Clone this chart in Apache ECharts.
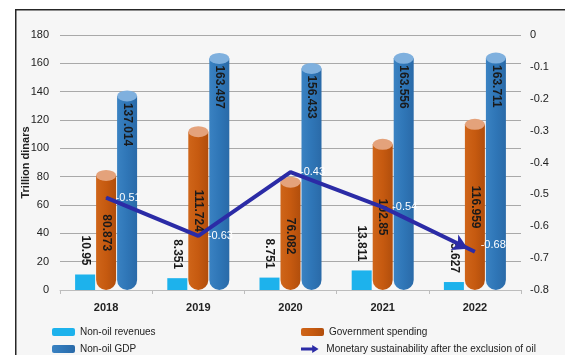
<!DOCTYPE html>
<html>
<head>
<meta charset="utf-8">
<script src="https://cdn.jsdelivr.net/npm/echarts@6/dist/echarts.min.js"></script>
<style>
  html, body { margin: 0; padding: 0; background: #ffffff; }
  #chart { width: 565px; height: 355px; }
</style>
</head>
<body>
<div id="chart"></div>
<script>
// Fiscal indicators, 2018-2022
const years = ['2018', '2019', '2020', '2021', '2022'];
const nonOilRevenues = [10.95, 8.351, 8.751, 13.811, 5.627];
const governmentSpending = [80.873, 111.724, 76.082, 102.85, 116.959];
const nonOilGDP = [137.014, 163.497, 156.433, 163.556, 163.711];
const sustainability = [-0.51, -0.63, -0.43, -0.54, -0.68];

const leftTicks = { min: 0, max: 180, interval: 20 };
const rightTicks = { min: -0.8, max: 0, interval: 0.1 };

const names = {
  rev: 'Non-oil revenues',
  spend: 'Government spending',
  gdp: 'Non-oil GDP',
  sust: 'Monetary sustainability after the exclusion of oil'
};

const FONT = '"Liberation Sans", Arial, sans-serif';
const NARROW = '"Liberation Sans Narrow", "Liberation Sans", Arial, sans-serif';
const BAR_W = 20;

const orangeFill = new echarts.graphic.LinearGradient(0, 0, 1, 0, [
  { offset: 0, color: '#cf6519' }, { offset: 0.5, color: '#c65a10' }, { offset: 1, color: '#b14e0c' }
]);
const blueFill = new echarts.graphic.LinearGradient(0, 0, 1, 0, [
  { offset: 0, color: '#3a82c2' }, { offset: 0.5, color: '#2f76b7' }, { offset: 1, color: '#2a6aa8' }
]);

const barLabel = {
  show: true, rotate: -90, color: '#1a1a1a', fontFamily: FONT,
  fontSize: 12, fontWeight: 'bold'
};

// Last point of the sustainability line carries the arrow head
const sustData = sustainability.map((v, i) => i === sustainability.length - 1
  ? { value: v, symbol: 'arrow', symbolSize: [13, 15], symbolRotate: -116, symbolOffset: [-7, -3] }
  : v);

function legendAt(name, left, top) {
  return {
    data: [name], left: left, top: top, itemWidth: 23, itemHeight: 8,
    selectedMode: false,
    textStyle: { fontFamily: NARROW, fontSize: 10, color: '#222' }
  };
}

const option = {
  animation: false,
  backgroundColor: 'transparent',
  graphic: [{
    type: 'rect', left: 15, top: 9, z: -10, silent: true,
    shape: { width: 570, height: 360 },
    style: { fill: '#f6f6f6', stroke: '#262626', lineWidth: 1.5 }
  }],
  grid: { left: 60, right: 44, top: 35, bottom: 65 },
  legend: [
    legendAt(names.rev, 47, 322),
    legendAt(names.spend, 296, 322),
    legendAt(names.gdp, 47, 339),
    Object.assign(legendAt(names.sust, 296, 339), {
      data: [{ name: names.sust, icon: 'path://M0,3 L14,3 L14,0 L22,5 L14,10 L14,7 L0,7 Z', itemStyle: { color: '#2b2ba6' } }]
    })
  ],
  xAxis: {
    type: 'category', data: years,
    axisLine: { lineStyle: { color: '#bdbdbd' } },
    axisTick: { show: true, length: 4, lineStyle: { color: '#bdbdbd' } },
    axisLabel: { fontFamily: FONT, fontSize: 11, fontWeight: 'bold', color: '#222', margin: 12 }
  },
  yAxis: [{
    type: 'value', min: leftTicks.min, max: leftTicks.max, interval: leftTicks.interval,
    name: 'Trillion dinars', nameLocation: 'middle', nameGap: 29, nameMoveOverlap: false,
    nameTextStyle: { fontFamily: FONT, fontSize: 11, fontWeight: 'bold', color: '#222' },
    axisLine: { show: false }, axisTick: { show: false },
    axisLabel: { fontFamily: FONT, fontSize: 11, color: '#222', margin: 11 },
    splitLine: { lineStyle: { color: '#a9a9a9', width: 1 } }
  }, {
    type: 'value', min: rightTicks.min, max: rightTicks.max, interval: rightTicks.interval,
    axisLine: { show: false }, axisTick: { show: false }, splitLine: { show: false },
    axisLabel: {
      fontFamily: FONT, fontSize: 11, color: '#222', margin: 9,
      formatter: v => (Math.abs(v) < 1e-9 ? '0' : (+v.toFixed(1)).toString())
    }
  }],
  series: [
    {
      name: names.rev, type: 'bar', data: nonOilRevenues, barWidth: BAR_W, barGap: '5%',
      itemStyle: { color: '#1db2ec' },
      label: Object.assign({}, barLabel, { position: 'top', distance: 9, align: 'right', verticalAlign: 'middle' })
    },
    {
      name: names.spend, type: 'bar', data: governmentSpending, barWidth: BAR_W, barGap: '5%',
      itemStyle: { color: orangeFill, borderRadius: [0, 0, 10, 10] },
      label: Object.assign({}, barLabel, { position: 'inside', align: 'center', verticalAlign: 'middle' })
    },
    {
      name: names.gdp, type: 'bar', data: nonOilGDP, barWidth: BAR_W, barGap: '5%',
      itemStyle: { color: blueFill, borderRadius: [0, 0, 10, 10] },
      label: Object.assign({}, barLabel, { position: 'insideTop', distance: 7, align: 'left', verticalAlign: 'middle' })
    },
    // Lighter elliptical caps on the cylinder tops
    {
      type: 'pictorialBar', data: governmentSpending, symbol: 'circle', symbolSize: [BAR_W, 11],
      symbolPosition: 'end', symbolOffset: [0, '-50%'], z: 3, silent: true,
      itemStyle: { color: '#e4a27b' }, tooltip: { show: false }
    },
    {
      type: 'pictorialBar', data: nonOilGDP, symbol: 'circle', symbolSize: [BAR_W, 11],
      symbolPosition: 'end', symbolOffset: [21, '-50%'], z: 3, silent: true,
      itemStyle: { color: '#7fb0de' }, tooltip: { show: false }
    },
    {
      name: names.sust, type: 'line', yAxisIndex: 1, data: sustData, z: 5,
      symbol: 'circle', symbolSize: 1,
      lineStyle: { color: '#2b2ba6', width: 4 },
      itemStyle: { color: '#2b2ba6' },
      label: { show: true, position: 'right', distance: 9, color: '#ffffff', fontFamily: FONT, fontSize: 11 }
    }
  ]
};

const chart = echarts.init(document.getElementById('chart'), null, { renderer: 'canvas' });
chart.setOption(option);
</script>
</body>
</html>
